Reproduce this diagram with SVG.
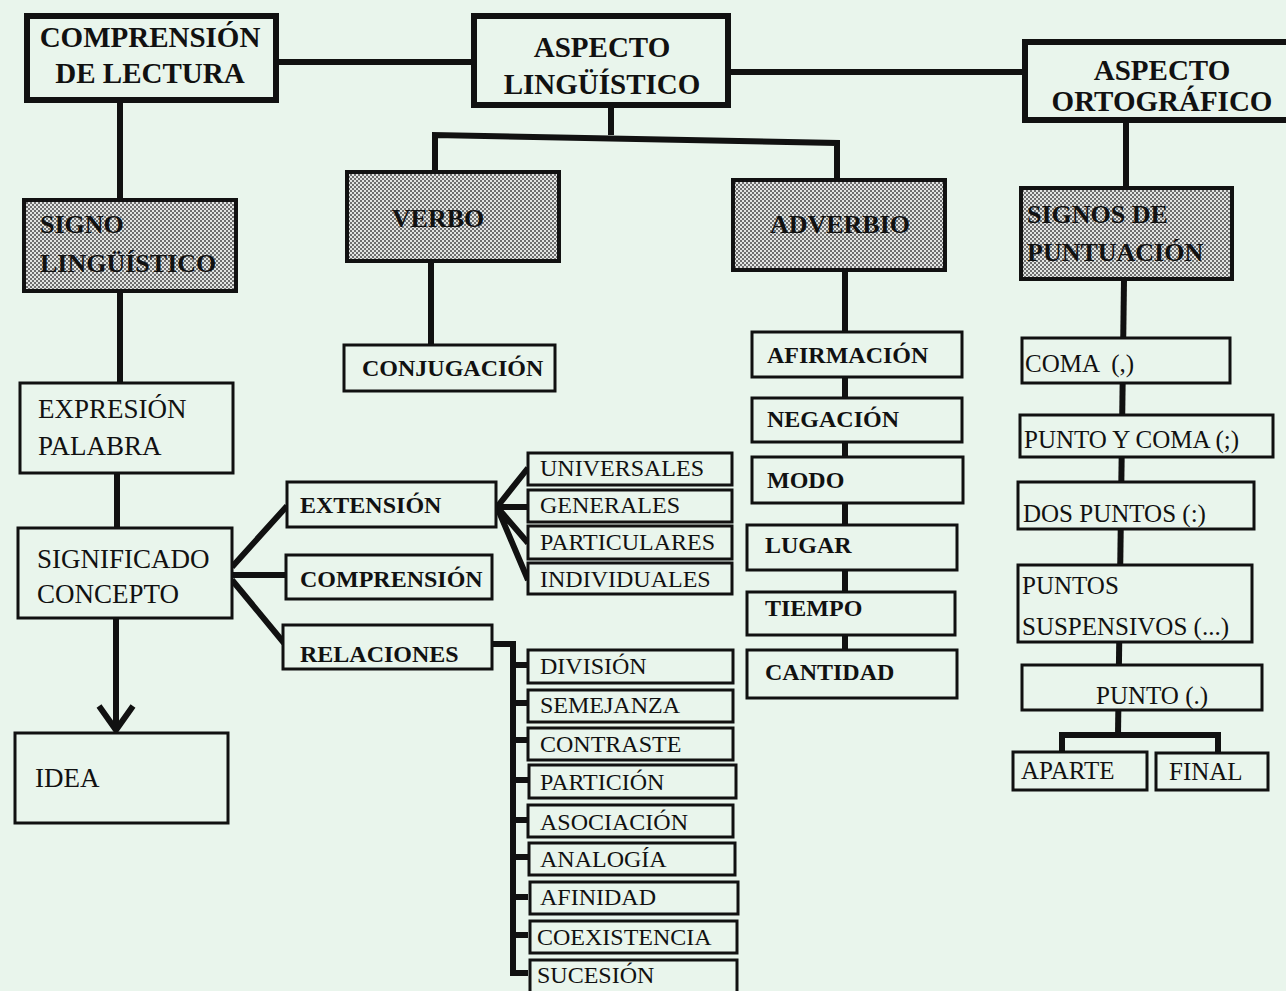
<svg xmlns="http://www.w3.org/2000/svg" width="1286" height="991" viewBox="0 0 1286 991">
<defs>
<pattern id="checker" width="4" height="4" patternUnits="userSpaceOnUse">
<rect width="4" height="4" fill="#e2e4e2"/>
<rect x="0" y="0" width="2" height="2" fill="#6e6e6e"/>
<rect x="2" y="2" width="2" height="2" fill="#6e6e6e"/>
</pattern>
</defs>
<style>
.bg{fill:#e9f5ec}
.head{fill:#e9f5ec;stroke:#111;stroke-width:6}
.shade{fill:url(#checker);stroke:#111;stroke-width:4}
.box{fill:#e9f5ec;stroke:#111;stroke-width:3}
.conn{fill:none;stroke:#111;stroke-width:6;stroke-linejoin:miter}
text{font-family:"Liberation Serif","Times New Roman",serif;fill:#111}
.hb{font-size:29px;font-weight:bold}
.sb{font-size:26px;font-weight:bold}
.cb{font-size:24px;font-weight:bold}
.cr{font-size:24px}
.pr{font-size:25px}
.lr{font-size:27px}
</style>
<rect class="bg" x="0" y="0" width="1286" height="991"/>

<g id="connectors">
<path class="conn" d="M276 62 H474"/>
<path class="conn" d="M728 72 H1025"/>
<path class="conn" d="M120 100 V200"/>
<path class="conn" d="M611 105 V135 M435 172 V135 L837 143 V180"/>
<path class="conn" d="M1126 120 V188"/>
<path class="conn" d="M120 291 V383"/>
<path class="conn" d="M117 473 V528"/>
<path class="conn" d="M116 618 V730"/>
<path class="conn" d="M99 706 L116 730 L133 706"/>
<path class="conn" d="M431 262 V345"/>
<path class="conn" d="M845 270 V650"/>
<path class="conn" d="M1124 280 L1118 735"/>
<path class="conn" d="M1062 752 V735 H1218 V753"/>
<path class="conn" d="M232 567 L287 506 M232 575 H286 M232 580 L284 643"/>
<path class="conn" d="M497 507 L528 468 M497 507 H528 M497 507 L528 543 M497 507 L528 580"/>
<path class="conn" d="M492 644 H513 V973 H528 M513 665 H528 M513 703 H528 M513 740 H528 M513 780 H528 M513 820 H528 M513 857 H528 M513 897 H528 M513 935 H528"/>
</g>

<g id="n-comprension-lectura"><rect class="head" x="27" y="16" width="249" height="84"/>
<text class="hb" x="150" y="47" text-anchor="middle" font-size="28">COMPRENSIÓN</text>
<text class="hb" x="150" y="83" text-anchor="middle" font-size="28">DE LECTURA</text></g>

<g id="n-aspecto-linguistico"><rect class="head" x="474" y="16" width="254" height="89"/>
<text class="hb" x="602" y="57" text-anchor="middle">ASPECTO</text>
<text class="hb" x="602" y="94" text-anchor="middle">LINGÜÍSTICO</text></g>

<g id="n-aspecto-ortografico"><rect class="head" x="1025" y="42" width="270" height="78"/>
<text class="hb" x="1162" y="80" text-anchor="middle">ASPECTO</text>
<text class="hb" x="1162" y="111" text-anchor="middle">ORTOGRÁFICO</text></g>

<g id="n-signo"><rect class="shade" x="24" y="200" width="212" height="91"/>
<text class="sb" x="40" y="233">SIGNO</text>
<text class="sb" x="40" y="272">LINGÜÍSTICO</text></g>

<g id="n-verbo"><rect class="shade" x="347" y="172" width="212" height="89"/>
<text class="sb" x="438" y="227" text-anchor="middle">VERBO</text></g>

<g id="n-adverbio"><rect class="shade" x="733" y="180" width="212" height="90"/>
<text class="sb" x="840" y="233" text-anchor="middle">ADVERBIO</text></g>

<g id="n-signos-puntuacion"><rect class="shade" x="1021" y="188" width="211" height="91"/>
<text class="sb" x="1027" y="223">SIGNOS DE</text>
<text class="sb" x="1027" y="261">PUNTUACIÓN</text></g>

<g id="n-expresion"><rect class="box" x="20" y="383" width="213" height="90"/>
<text class="lr" x="38" y="418">EXPRESIÓN</text>
<text class="lr" x="38" y="455">PALABRA</text></g>

<g id="n-significado"><rect class="box" x="18" y="528" width="214" height="90"/>
<text class="lr" x="37" y="568">SIGNIFICADO</text>
<text class="lr" x="37" y="603">CONCEPTO</text></g>

<g id="n-idea"><rect class="box" x="15" y="733" width="213" height="90"/>
<text class="lr" x="35" y="787">IDEA</text></g>

<g id="n-conjugacion"><rect class="box" x="344" y="345" width="211" height="46"/>
<text class="cb" x="362" y="376">CONJUGACIÓN</text></g>

<g id="n-extension"><rect class="box" x="287" y="482" width="209" height="45"/>
<text class="cb" x="300" y="513">EXTENSIÓN</text></g>
<g id="n-comprension"><rect class="box" x="286" y="555" width="206" height="44"/>
<text class="cb" x="300" y="587">COMPRENSIÓN</text></g>
<g id="n-relaciones"><rect class="box" x="283" y="625" width="209" height="44"/>
<text class="cb" x="300" y="662">RELACIONES</text></g>

<g id="n-universales"><rect class="box" x="528" y="453" width="204" height="32"/><text class="cr" x="540" y="476">UNIVERSALES</text></g>
<g id="n-generales"><rect class="box" x="528" y="490" width="204" height="32"/><text class="cr" x="540" y="513">GENERALES</text></g>
<g id="n-particulares"><rect class="box" x="528" y="526" width="204" height="33"/><text class="cr" x="540" y="550">PARTICULARES</text></g>
<g id="n-individuales"><rect class="box" x="528" y="563" width="204" height="31"/><text class="cr" x="540" y="587">INDIVIDUALES</text></g>

<g id="n-division"><rect class="box" x="528" y="650" width="205" height="33"/><text class="cr" x="540" y="674">DIVISIÓN</text></g>
<g id="n-semejanza"><rect class="box" x="528" y="690" width="205" height="32"/><text class="cr" x="540" y="713">SEMEJANZA</text></g>
<g id="n-contraste"><rect class="box" x="528" y="728" width="205" height="32"/><text class="cr" x="540" y="752">CONTRASTE</text></g>
<g id="n-particion"><rect class="box" x="529" y="765" width="207" height="33"/><text class="cr" x="540" y="790">PARTICIÓN</text></g>
<g id="n-asociacion"><rect class="box" x="528" y="805" width="205" height="32"/><text class="cr" x="540" y="830">ASOCIACIÓN</text></g>
<g id="n-analogia"><rect class="box" x="529" y="843" width="206" height="32"/><text class="cr" x="540" y="867">ANALOGÍA</text></g>
<g id="n-afinidad"><rect class="box" x="530" y="882" width="208" height="32"/><text class="cr" x="540" y="905">AFINIDAD</text></g>
<g id="n-coexistencia"><rect class="box" x="530" y="921" width="207" height="32"/><text class="cr" x="537" y="945">COEXISTENCIA</text></g>
<g id="n-sucesion"><rect class="box" x="530" y="960" width="207" height="34"/><text class="cr" x="537" y="983">SUCESIÓN</text></g>

<g id="n-afirmacion"><rect class="box" x="752" y="332" width="210" height="45"/><text class="cb" x="767" y="363">AFIRMACIÓN</text></g>
<g id="n-negacion"><rect class="box" x="752" y="398" width="210" height="44"/><text class="cb" x="767" y="427">NEGACIÓN</text></g>
<g id="n-modo"><rect class="box" x="752" y="457" width="211" height="46"/><text class="cb" x="767" y="488">MODO</text></g>
<g id="n-lugar"><rect class="box" x="747" y="525" width="210" height="45"/><text class="cb" x="765" y="553">LUGAR</text></g>
<g id="n-tiempo"><rect class="box" x="747" y="592" width="208" height="43"/><text class="cb" x="765" y="616">TIEMPO</text></g>
<g id="n-cantidad"><rect class="box" x="747" y="650" width="210" height="48"/><text class="cb" x="765" y="680">CANTIDAD</text></g>

<g id="n-coma"><rect class="box" x="1022" y="338" width="208" height="45"/><text class="pr" x="1025" y="372" xml:space="preserve">COMA  (,)</text></g>
<g id="n-punto-coma"><rect class="box" x="1020" y="415" width="253" height="42"/><text class="pr" x="1024" y="448">PUNTO Y COMA (;)</text></g>
<g id="n-dos-puntos"><rect class="box" x="1018" y="482" width="236" height="47"/><text class="pr" x="1023" y="522">DOS PUNTOS (:)</text></g>
<g id="n-suspensivos"><rect class="box" x="1018" y="565" width="234" height="77"/><text class="pr" x="1022" y="594">PUNTOS</text><text class="pr" x="1022" y="635">SUSPENSIVOS (...)</text></g>
<g id="n-punto"><rect class="box" x="1022" y="665" width="240" height="45"/><text class="pr" x="1096" y="704">PUNTO (.)</text></g>
<g id="n-aparte"><rect class="box" x="1013" y="752" width="134" height="38"/><text class="pr" x="1021" y="779">APARTE</text></g>
<g id="n-final"><rect class="box" x="1156" y="753" width="112" height="37"/><text class="pr" x="1169" y="780">FINAL</text></g>
</svg>
